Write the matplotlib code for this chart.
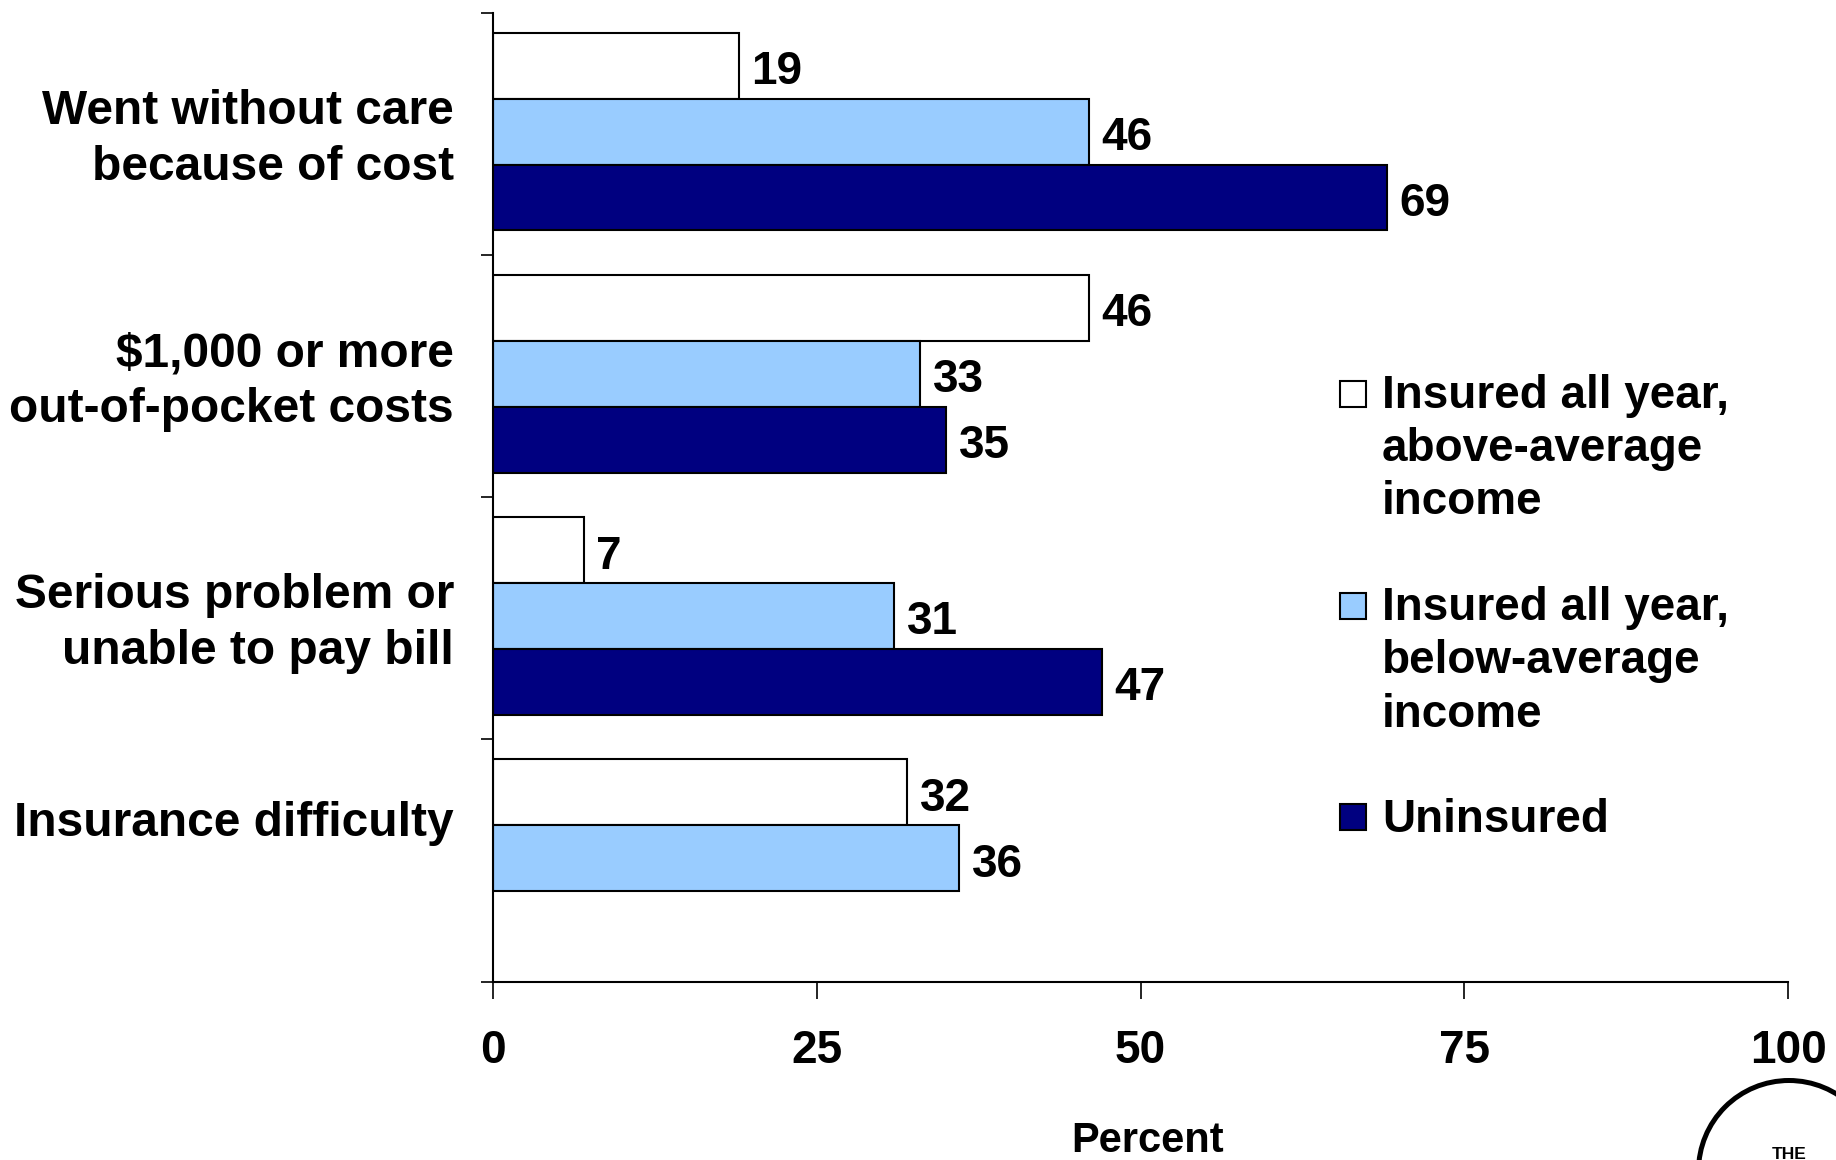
import numpy as np
import matplotlib.pyplot as plt
from matplotlib.patches import Rectangle, Ellipse
from matplotlib.transforms import ScaledTranslation

# ---------- Data ----------
categories = ['Went without care\nbecause of cost',
              '\\$1,000 or more\nout-of-pocket costs',
              'Serious problem or\nunable to pay bill',
              'Insurance difficulty']
above_avg = [19, 46, 7, 32]
below_avg = [46, 33, 31, 36]
uninsured = [69, 35, 47, np.nan]   # no uninsured bar for insurance difficulty

series_names = ['Insured all year,\nabove-average\nincome',
                'Insured all year,\nbelow-average\nincome',
                'Uninsured']
series_colors = ['#FFFFFF', '#99CCFF', '#000080']
x_ticks = [0, 25, 50, 75, 100]

# ---------- Style ----------
plt.rcParams['font.family'] = ['Liberation Sans', 'DejaVu Sans']
plt.rcParams['font.weight'] = 'bold'
FS = 33       # values, ticks, legend
FS_CAT = 34.5 # category labels

W, H = 1836, 1160
fig = plt.figure(figsize=(W / 100, H / 100), dpi=100)
ax = fig.add_axes([493 / W, 1 - 981.5 / H, 1295 / W, 968.5 / H])

y = np.arange(len(categories))
h = 0.272
all_series = [above_avg, below_avg, uninsured]
for k, (vals, col) in enumerate(zip(all_series, series_colors)):
    pos = y + (k - 1) * h - 0.01
    ax.barh(pos, vals, height=h, color=col, edgecolor='black', linewidth=1.5)
    for yy, v in zip(pos, vals):
        if np.isnan(v):
            continue
        ax.annotate(f'{v:g}', (v, yy), xytext=(9, -4.7), textcoords='offset points',
                    ha='left', va='center', fontsize=FS, fontweight='bold')

ax.set_xlim(0, 100)
ax.set_ylim(len(categories) - 0.5, -0.5)

ax.set_xticks(x_ticks)
ax.set_xticklabels([str(t) for t in x_ticks])
ax.set_yticks(np.arange(len(categories) + 1) - 0.5)
ax.set_yticklabels([])
ax.set_yticks(y, minor=True)
ax.set_yticklabels(categories, minor=True, fontsize=FS_CAT, fontweight='bold',
                   linespacing=1.3)
ax.tick_params(axis='y', which='minor', length=0, pad=28)
ax.tick_params(axis='y', which='major', length=9, width=1.2, direction='out')
ax.tick_params(axis='x', length=12, width=1.2, direction='out', pad=22.5,
               labelsize=FS)

# labels sit a little above the category centers, the last one clearly so
shifts = [0.05, 0.05, 0.05, 0.42]
for lab, dy in zip(ax.get_yticklabels(minor=True), shifts):
    lab.set_transform(lab.get_transform() + ScaledTranslation(0, dy, fig.dpi_scale_trans))

for s in ['top', 'right']:
    ax.spines[s].set_visible(False)
for s in ['left', 'bottom']:
    ax.spines[s].set_linewidth(1.5)

ax.set_xlabel('Percent', fontsize=30, fontweight='bold', labelpad=34)
ax.xaxis.label.set_x(0.5054)

# ---------- Legend (by hand, square next to the first line) ----------
leg_y = [393.5, 605.7, 817]   # pixel centers of the squares
for name, col, yc in zip(series_names, series_colors, leg_y):
    fig.patches.append(Rectangle((1340 / W, 1 - (yc + 13) / H), 26 / W, 26 / H,
                                 transform=fig.transFigure, facecolor=col,
                                 edgecolor='black', linewidth=1.5))
    fig.text(1382 / W, 1 - (yc - 19.4) / H, name, fontsize=FS, fontweight='bold',
             ha='left', va='top', linespacing=1.27)

# ---------- Logo fragment ----------
fig.patches.append(Ellipse((1789 / W, 1 - 1171 / H), 181 / W, 181 / H,
                           transform=fig.transFigure, fill=False,
                           edgecolor='black', linewidth=3.6))
fig.text(1789 / W, 1 - 1147 / H, 'THE', fontsize=12.5, fontweight='bold',
         ha='center', va='top')

fig.savefig('out.png', dpi=100)
